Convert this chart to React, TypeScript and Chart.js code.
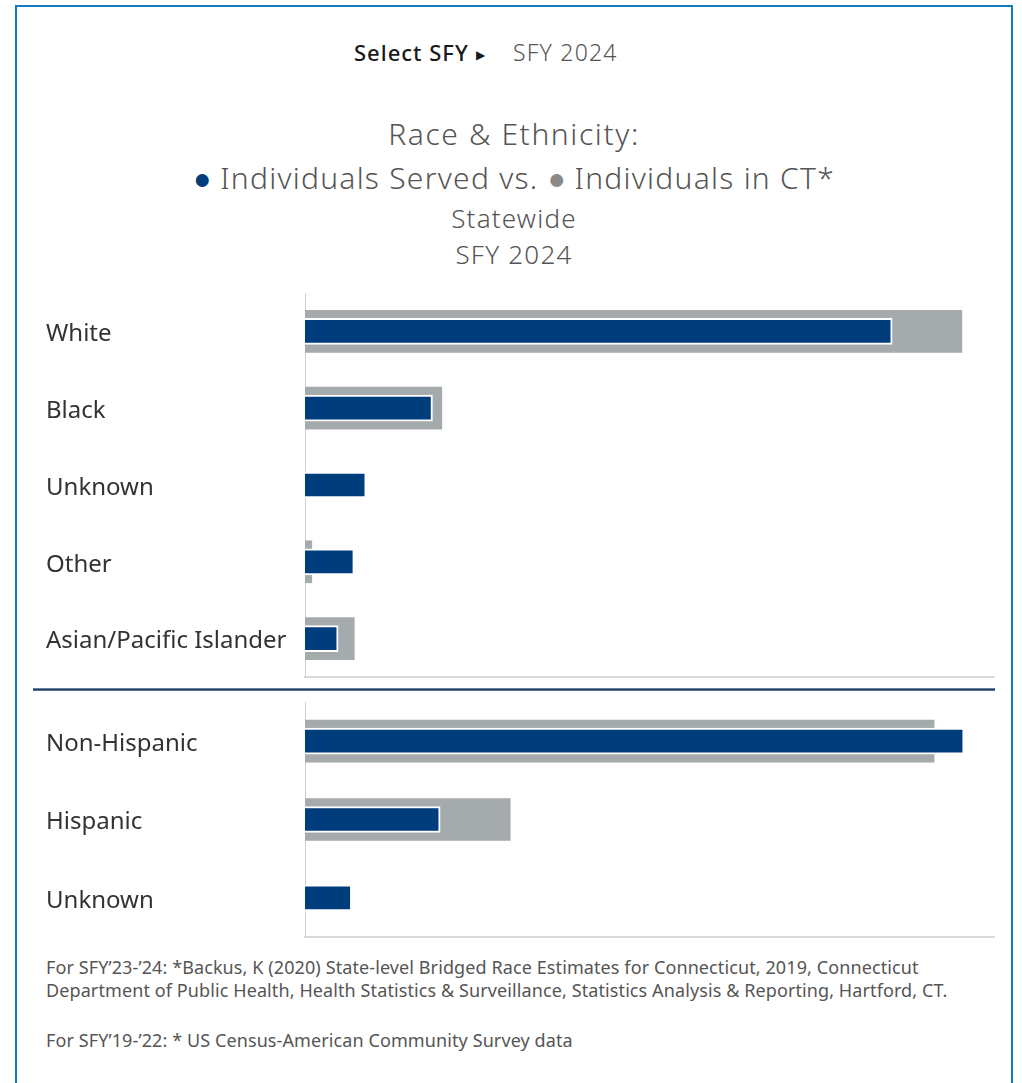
import React, { useEffect, useRef } from "react";
import { Chart, registerables } from "chart.js";

Chart.register(...registerables);

// ---- Data (percent of total) ----
const raceCategories = ["White", "Black", "Unknown", "Other", "Asian/Pacific Islander"];
const raceServed = [69.1, 15.0, 7.2, 5.8, 3.9];
const raceCT: (number | null)[] = [77.3, 16.1, null, 0.8, 5.8];
const raceAxisMax = 81.2;

const ethCategories = ["Non-Hispanic", "Hispanic", "Unknown"];
const ethServed = [79.0, 16.2, 5.6];
const ethCT: (number | null)[] = [75.4, 24.6, null];
const ethAxisMax = 82.7;

const seriesNames = ["Individuals Served", "Individuals in CT*"];

const BLUE = "#003d7c";
const GRAY = "#a5aaad";
const FONT = '"Noto Sans", sans-serif';

function BarPanel(props: {
  labels: string[];
  served: (number | null)[];
  ct: (number | null)[];
  max: number;
  left: number;
  top: number;
  width: number;
  height: number;
}) {
  const ref = useRef<HTMLCanvasElement | null>(null);
  useEffect(() => {
    if (!ref.current) return;
    const chart = new Chart(ref.current, {
      type: "bar",
      data: {
        labels: props.labels,
        datasets: [
          {
            label: seriesNames[0],
            data: props.served,
            backgroundColor: BLUE,
            borderColor: "#ffffff",
            borderWidth: 2,
            borderSkipped: "start",
            barThickness: 26,
            grouped: false,
            order: 1,
          } as any,
          {
            label: seriesNames[1],
            data: props.ct,
            backgroundColor: GRAY,
            borderWidth: 0,
            barThickness: 42,
            grouped: false,
            order: 2,
          } as any,
        ],
      },
      options: {
        indexAxis: "y",
        responsive: false,
        maintainAspectRatio: false,
        animation: false,
        layout: { padding: { top: 8, bottom: 8, left: 0, right: 0 } },
        plugins: { legend: { display: false }, tooltip: { enabled: false }, title: { display: false } },
        scales: {
          x: {
            min: 0,
            max: props.max,
            grid: { display: false },
            ticks: { display: false },
            border: { display: true, color: "#d9d9d9", width: 2 },
            afterFit: (s: any) => {
              s.height = 0;
              s.paddingLeft = 0;
              s.paddingRight = 0;
            },
          },
          y: {
            grid: { display: false },
            border: { display: true, color: "#d0d0d0", width: 1 },
            ticks: {
              crossAlign: "far",
              padding: 0,
              labelOffset: 3,
              color: "#333333",
              font: { family: FONT, size: 24 },
            },
            afterFit: (s: any) => {
              s.width = 259;
              s.paddingTop = 0;
              s.paddingBottom = 0;
            },
          },
        },
      } as any,
    });
    return () => chart.destroy();
  }, []);
  return (
    <canvas
      ref={ref}
      width={props.width}
      height={props.height}
      style={{ position: "absolute", left: props.left, top: props.top, width: props.width, height: props.height }}
    />
  );
}

const abs = (o: React.CSSProperties): React.CSSProperties => ({
  position: "absolute",
  whiteSpace: "nowrap",
  lineHeight: 1,
  margin: 0,
  ...o,
});

const dot = (color: string): React.CSSProperties => ({
  color,
  fontFamily: '"DejaVu Sans", sans-serif',
  fontSize: 30,
  lineHeight: 0,
  letterSpacing: 0,
});

export default function App() {
  return (
    <div
      style={{
        position: "absolute",
        left: 0,
        top: 0,
        width: 1022,
        height: 1083,
        overflow: "hidden",
        background: "#ffffff",
        fontFamily: FONT,
      }}
    >
      <div
        style={{
          position: "absolute",
          left: 15,
          top: 5,
          width: 998,
          height: 1200,
          boxSizing: "border-box",
          border: "2px solid #117bbd",
        }}
      />
      {/* selector */}
      <div style={abs({ left: 354, top: 41, fontSize: 22, fontWeight: 500, letterSpacing: 1, color: "#1a1a1a" })}>Select SFY</div>
      <div style={abs({ left: 476, top: 49, fontSize: 12, color: "#1a1a1a", fontFamily: '"DejaVu Sans", sans-serif' })}>▶</div>
      <div style={abs({ left: 513, top: 41, fontSize: 23, fontWeight: 300, letterSpacing: 1.2, color: "#555555" })}>SFY 2024</div>

      {/* title */}
      <div style={abs({ left: 14, width: 1000, textAlign: "center", top: 119, fontSize: 30, fontWeight: 300, letterSpacing: 1.6, color: "#555555" })}>
        Race &amp; Ethnicity:
      </div>
      <div style={abs({ left: 14, width: 1000, textAlign: "center", top: 163, fontSize: 30, fontWeight: 300, letterSpacing: 1.25, color: "#555555" })}>
        <span style={dot(BLUE)}>●</span> Individuals Served vs.{" "}
        <span style={dot("#8a8a8a")}>●</span> Individuals in CT*
      </div>
      <div style={abs({ left: 14, width: 1000, textAlign: "center", top: 205, fontSize: 26, fontWeight: 300, letterSpacing: 1.2, color: "#555555" })}>
        Statewide
      </div>
      <div style={abs({ left: 14, width: 1000, textAlign: "center", top: 241, fontSize: 26, fontWeight: 300, letterSpacing: 1.2, color: "#555555" })}>
        SFY 2024
      </div>

      <BarPanel labels={raceCategories} served={raceServed} ct={raceCT} max={raceAxisMax} left={46} top={285} width={949} height={400} />

      <div
        style={{
          position: "absolute",
          left: 33,
          top: 688,
          width: 962,
          height: 3,
          background: "linear-gradient(to bottom, #9aabc0 0%, #24436b 40%, #24436b 70%, #9aabc0 100%)",
        }}
      />

      <BarPanel labels={ethCategories} served={ethServed} ct={ethCT} max={ethAxisMax} left={46} top={694} width={949} height={251} />

      {/* footnotes */}
      <div style={abs({ left: 46, top: 958, fontSize: 18, letterSpacing: 0.1, color: "#555555" })}>
        For SFY’23-’24: *Backus, K (2020) State-level Bridged Race Estimates for Connecticut, 2019, Connecticut
      </div>
      <div style={abs({ left: 46, top: 981, fontSize: 18, letterSpacing: 0.1, color: "#555555" })}>
        Department of Public Health, Health Statistics &amp; Surveillance, Statistics Analysis &amp; Reporting, Hartford, CT.
      </div>
      <div style={abs({ left: 46, top: 1031, fontSize: 18, letterSpacing: 0.1, color: "#555555" })}>
        For SFY’19-’22: * US Census-American Community Survey data
      </div>
    </div>
  );
}
